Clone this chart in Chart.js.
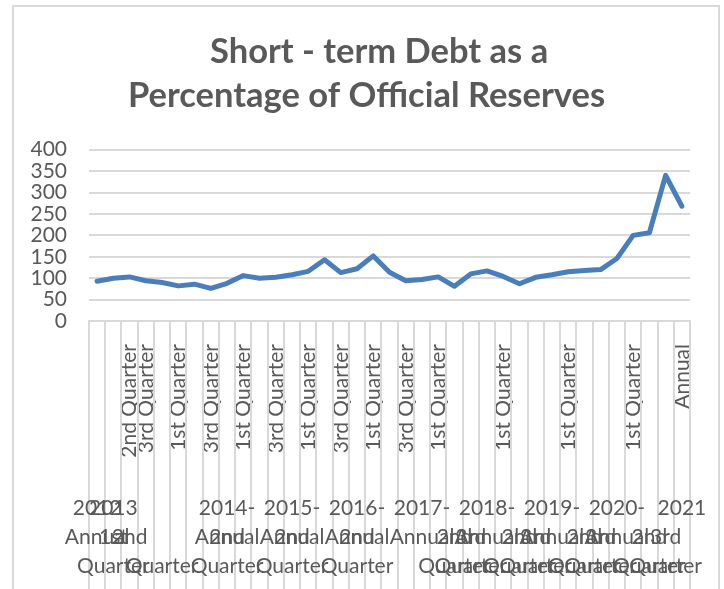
<!DOCTYPE html>
<html><head><meta charset="utf-8">
<script src="https://cdn.jsdelivr.net/npm/chart.js@4/dist/chart.umd.min.js"></script>
<style>html,body{margin:0;padding:0;background:#fff;overflow:hidden}</style></head>
<body><canvas id="c" width="724" height="589"></canvas>
<script>
const titleLines = ['   Short - term Debt as a', 'Percentage of Official Reserves'];
const categories = [
  '2012 Annual',
  '2013 1st Quarter','2013 2nd Quarter','2013 3rd Quarter','2013 Annual',
  '2014- 1st Quarter','2014- 2nd Quarter','2014- 3rd Quarter','2014- Annual',
  '2015- 1st Quarter','2015- 2nd Quarter','2015- 3rd Quarter','2015- Annual',
  '2016- 1st Quarter','2016- 2nd Quarter','2016- 3rd Quarter','2016- Annual',
  '2017- 1st Quarter','2017- 2nd Quarter','2017- 3rd Quarter','2017- Annual',
  '2018- 1st Quarter','2018- 2nd Quarter','2018- 3rd Quarter','2018- Annual',
  '2019- 1st Quarter','2019- 2nd Quarter','2019- 3rd Quarter','2019- Annual',
  '2020- 1st Quarter','2020- 2nd Quarter','2020- 3rd Quarter','2020- Annual',
  '2021 1st Quarter','2021 2nd Quarter','2021 3rd Quarter','2021 Annual'
];
const values = [93, 100, 103, 94, 90, 82, 86, 76, 88, 106, 100, 102, 108, 116, 143, 113, 122, 152, 114, 94, 97, 103, 81, 110, 117, 104, 87, 102, 108, 115, 118, 120, 146, 200, 206, 340, 268];
const yTicks = [0, 50, 100, 150, 200, 250, 300, 350, 400];
const rotatedLabels = ['','','2nd Quarter','3rd Quarter','','1st Quarter','','3rd Quarter','','1st Quarter','','3rd Quarter','','1st Quarter','','3rd Quarter','','1st Quarter','','3rd Quarter','','1st Quarter','','','','1st Quarter','','','','1st Quarter','','','','1st Quarter','','','Annual'];
const hRow1 = ['2012','2013','','','','','','','2014-','','','','2015-','','','','2016-','','','','2017-','','','','2018-','','','','2019-','','','','2020-','','','','2021'];
const hRow2 = ['Annual','1st','2nd','','','','','','Annual','','','','Annual','','','','Annual','','','','Annual','','2nd','3rd','Annual','','2nd','3rd','Annual','','2nd','3rd','Annual','','2nd','3rd',''];
const hRow2b = ['','','','','','','','','2nd','','','','2nd','','','','2nd','','','','','','','','','','','','','','','','','','','',''];
const hRow3 = ['','Quarter','','','Quarter','','','','Quarter','','','','Quarter','','','','Quarter','','','','','','Quarter','Quarter','','','Quarter','Quarter','','','Quarter','Quarter','','','Quarter','Quarter',''];

Chart.defaults.font.family = 'Lato';
const TEXT = '#595959', GRID = '#d9d9d9';

const framePlugin = {
  id: 'frame',
  beforeDraw(chart) {
    const c = chart.ctx;
    c.save();
    c.fillStyle = '#fff'; c.fillRect(0, 0, chart.width, chart.height);
    c.strokeStyle = GRID; c.lineWidth = 2;
    c.strokeRect(13, 6, 706, 640);
    c.restore();
  }
};
const xLabelPlugin = {
  id: 'xLabels',
  afterDraw(chart) {
    const c = chart.ctx, area = chart.chartArea, x = chart.scales.x;
    c.save();
    c.strokeStyle = GRID; c.lineWidth = 2;
    for (let k = 0; k <= categories.length; k++) {
      const px = Math.round(x.getPixelForValue(k - 0.5));
      c.beginPath(); c.moveTo(px, area.bottom); c.lineTo(px, chart.height); c.stroke();
    }
    c.fillStyle = TEXT; c.font = '21px Lato'; c.textAlign = 'center'; c.textBaseline = 'middle';
    const rows = [[hRow1, 187], [hRow2, 216], [hRow2b, 216], [hRow3, 245]];
    rows.forEach(([arr, dy]) => arr.forEach((t, i) => {
      if (t) c.fillText(t, x.getPixelForValue(i), area.bottom + dy);
    }));
    c.restore();
  }
};

new Chart(document.getElementById('c'), {
  type: 'line',
  data: {
    labels: categories,
    datasets: [{
      data: values, borderColor: '#4a7ebb', borderWidth: 5, pointRadius: 0,
      tension: 0, fill: false, borderJoinStyle: 'round', borderCapStyle: 'round'
    }]
  },
  options: {
    responsive: false, animation: false,
    layout: { padding: { left: 9, right: 0, top: 0, bottom: 0 } },
    plugins: {
      legend: { display: false }, tooltip: { enabled: false },
      title: {
        display: true, text: titleLines, color: TEXT,
        font: { family: 'Lato', size: 34.5, weight: 'bold', lineHeight: 1.3 },
        padding: { top: 29, bottom: 31 }
      }
    },
    scales: {
      x: {
        offset: true,
        grid: { display: false },
        border: { display: true, color: GRID, width: 2 },
        ticks: {
          autoSkip: false, minRotation: 90, maxRotation: 90, padding: 15,
          color: TEXT, font: { size: 21 },
          callback: (v, i) => rotatedLabels[i]
        },
        afterFit: s => { s.height = 268; }
      },
      y: {
        min: 0, max: 400,
        afterBuildTicks: s => { s.ticks = yTicks.map(v => ({ value: v })); },
        ticks: { autoSkip: false, padding: 22, color: TEXT, font: { size: 21 } },
        grid: { color: GRID, lineWidth: 2, drawTicks: false },
        border: { display: false },
        afterFit: s => { s.width = 80; }
      },
      yRight: {
        position: 'right', display: true,
        ticks: { display: false }, grid: { display: false }, border: { display: false },
        afterFit: s => { s.width = 34; }
      }
    }
  },
  plugins: [framePlugin, xLabelPlugin]
});
</script></body></html>
